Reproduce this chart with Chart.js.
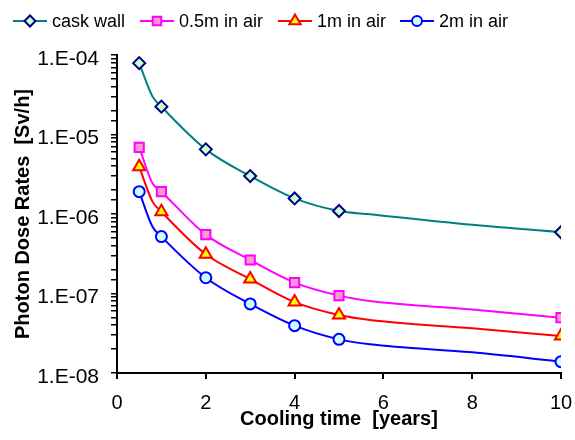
<!DOCTYPE html>
<html>
<head>
<meta charset="utf-8">
<script src="https://cdn.jsdelivr.net/npm/chart.js@4/dist/chart.umd.min.js"></script>
<style>
  html, body { margin: 0; padding: 0; background: #fff; }
  #wrap { width: 575px; height: 440px; }
</style>
</head>
<body>
<div id="wrap"><canvas id="c" width="575" height="440"></canvas></div>
<script>
// cooling time [years]; markers only on the measured years
const years = [0.5, 0.8, 1, 2, 3, 4, 5, 5.7, 8, 10];
const marked = [true, false, true, true, true, true, true, false, false, true];

const caskWall = [7.9e-5, 3.0e-5, 2.24e-5, 6.5e-6, 3.0e-6, 1.57e-6, 1.09e-6, 9.9e-7, 7.3e-7, 5.9e-7];
const air05m = [6.9e-6, 2.43e-6, 1.91e-6, 5.5e-7, 2.64e-7, 1.37e-7, 9.4e-8, 8.05e-8, 6.3e-8, 4.96e-8];
const air1m = [3.94e-6, 1.43e-6, 1.07e-6, 3.11e-7, 1.52e-7, 7.8e-8, 5.37e-8, 4.64e-8, 3.65e-8, 2.92e-8];
const air2m = [1.91e-6, 6.9e-7, 5.2e-7, 1.58e-7, 7.4e-8, 3.94e-8, 2.65e-8, 2.3e-8, 1.82e-8, 1.39e-8];

const seriesNames = ["cask wall", "0.5m in air", "1m in air", "2m in air"];
const xTicks = [0, 2, 4, 6, 8, 10];

function pts(vals) {
	return years.map((x, i) => ({ x: x, y: vals[i] }));
}

function mk(label, vals, line, border, fill, style, r) {
	return {
		label: label,
		data: pts(vals),
		borderColor: line,
		borderWidth: 2,
		pointStyle: style,
		pointRadius: marked.map((m) => (m ? r : 0)),
		pointBorderColor: border,
		pointBackgroundColor: fill,
		pointBorderWidth: 2,
		cubicInterpolationMode: "monotone",
		fill: false,
	};
}

const datasets = [
	mk(seriesNames[0], caskWall, "#008080", "#000080", "#ccffcc", "rectRot", 6),
	mk(seriesNames[1], air05m, "#ff00ff", "#ff00ff", "#ff99cc", "rect", 6.5),
	mk(seriesNames[2], air1m, "#ff0000", "#ff0000", "#ffff00", "triangle", 7),
	mk(seriesNames[3], air2m, "#0000ff", "#0000ff", "#ccffff", "circle", 5.5),
];

// legend drawn as line + marker, like the original
const legendPos = [13, 140, 278, 400];
const topLegend = {
	id: "topLegend",
	afterDraw(chart) {
		const ctx = chart.ctx;
		const y = 21;
		ctx.save();
		chart.data.datasets.forEach((ds, i) => {
			const x0 = legendPos[i];
			ctx.strokeStyle = ds.borderColor;
			ctx.lineWidth = 2;
			ctx.beginPath();
			ctx.moveTo(x0, y);
			ctx.lineTo(x0 + 34, y);
			ctx.stroke();
			ctx.fillStyle = ds.pointBackgroundColor;
			ctx.strokeStyle = ds.pointBorderColor;
			ctx.lineWidth = 2;
			Chart.helpers.drawPoint(ctx, {
				pointStyle: ds.pointStyle,
				radius: Math.max(...ds.pointRadius) - 0.5,
				rotation: 0,
				borderWidth: 2,
			}, x0 + 17, y);
			ctx.fillStyle = "#000";
			ctx.font = "18px 'Liberation Sans', Arial, sans-serif";
			ctx.textAlign = "left";
			ctx.textBaseline = "middle";
			ctx.fillText(ds.label, x0 + 39, y + 1);
		});
		ctx.restore();
	},
};

function expLabel(v) {
	const e = Math.log10(v);
	const r = Math.round(e);
	if (Math.abs(e - r) > 1e-6) return "";
	return "1.E" + (r < 0 ? "-" : "+") + String(Math.abs(r)).padStart(2, "0");
}

new Chart(document.getElementById("c"), {
	type: "line",
	data: { datasets: datasets },
	plugins: [topLegend],
	options: {
		responsive: false,
		animation: false,
		layout: { padding: { top: 55, right: 4, left: 0, bottom: 0 } },
		plugins: { legend: { display: false }, tooltip: { enabled: false } },
		scales: {
			x: {
				type: "linear",
				min: 0,
				max: 10,
				afterBuildTicks: (s) => { s.ticks = xTicks.map((v) => ({ value: v })); },
				afterFit: (s) => { s.height = 67; s.paddingRight = 14; },
				grid: { drawOnChartArea: false, drawTicks: true, tickLength: 6, color: "#000", lineWidth: 2 },
				border: { display: true, color: "#000", width: 2 },
				ticks: { color: "#000", padding: 12, maxRotation: 0, font: { family: "'Liberation Sans', Arial", size: 20 } },
				title: {
					display: true,
					text: "Cooling time  [years]",
					color: "#000",
					padding: { top: 0, bottom: 9 },
					font: { family: "'Liberation Sans', Arial", size: 20, weight: "bold" },
				},
			},
			y: {
				type: "logarithmic",
				min: 1e-8,
				max: 1e-4,
				afterFit: (s) => { s.width = 117; },
				grid: { drawOnChartArea: false, drawTicks: true, tickLength: 6, color: "#000", lineWidth: 1.5 },
				border: { display: true, color: "#000", width: 2 },
				ticks: {
					color: "#000",
					padding: 12,
					autoSkip: false,
					labelOffset: 4,
					font: { family: "'Liberation Sans', Arial", size: 21 },
					callback: (v) => expLabel(v),
				},
				title: {
					display: true,
					text: "Photon Dose Rates  [Sv/h]",
					color: "#000",
					padding: { top: 11, bottom: 0 },
					font: { family: "'Liberation Sans', Arial", size: 20, weight: "bold" },
				},
			},
		},
	},
});
</script>
</body>
</html>
